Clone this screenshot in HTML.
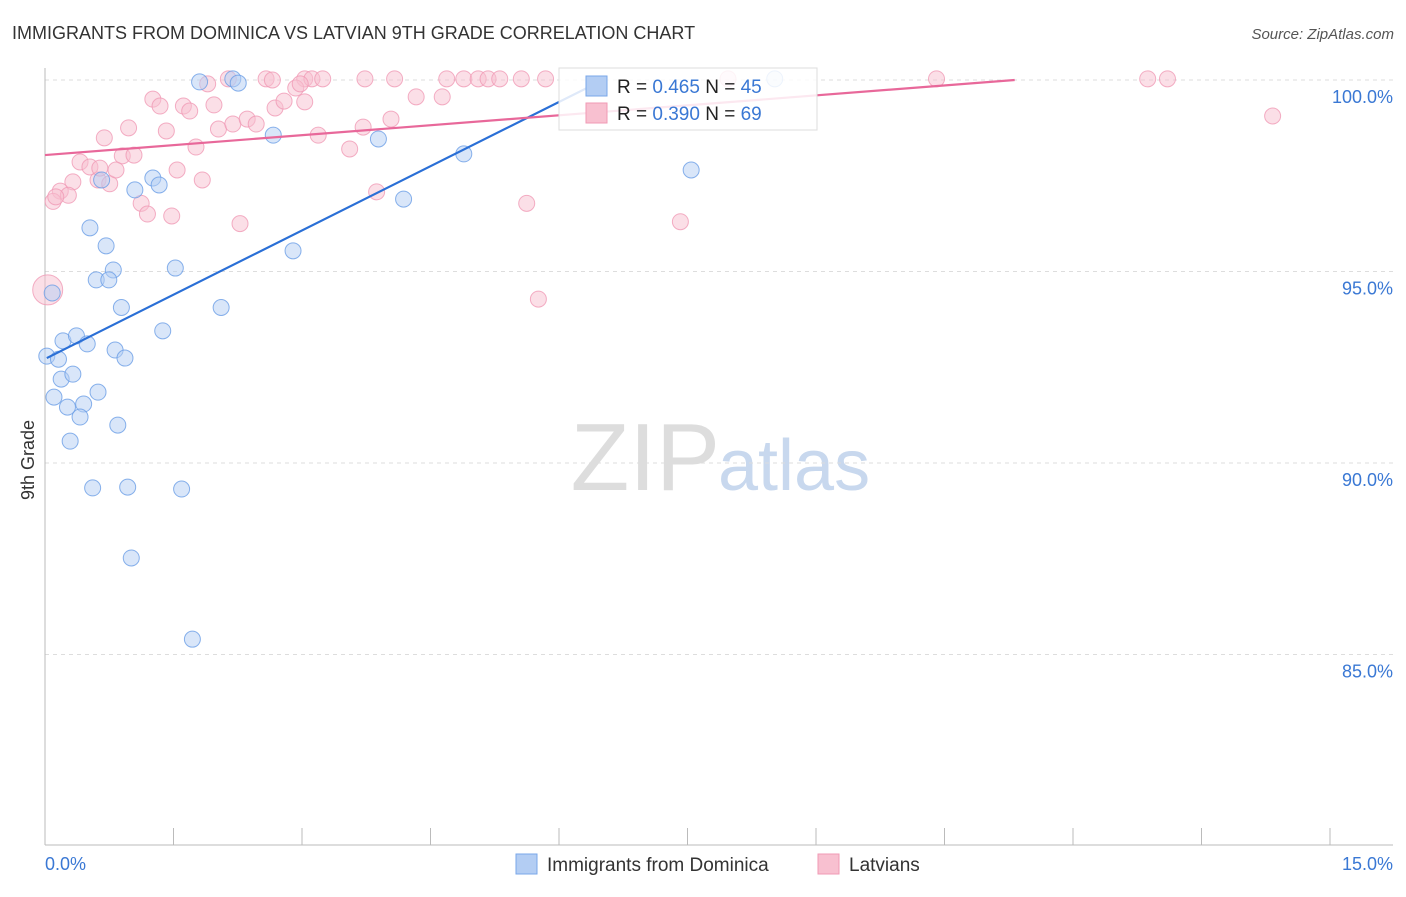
<!DOCTYPE html>
<html><head><meta charset="utf-8"><style>
body{margin:0;background:#fff;font-family:"Liberation Sans",sans-serif}
svg text{font-family:"Liberation Sans",sans-serif}
</style></head><body>
<svg id="c" width="1406" height="892" xmlns="http://www.w3.org/2000/svg">
<text x="12" y="39" font-size="18" fill="#333">IMMIGRANTS FROM DOMINICA VS LATVIAN 9TH GRADE CORRELATION CHART</text>
<text x="1394" y="39" font-size="15" fill="#555" text-anchor="end" font-style="italic">Source: ZipAtlas.com</text>
<text x="720" y="490" font-size="96" fill="#ddd" text-anchor="end" font-family="Liberation Serif">ZIP</text>
<text x="718" y="490" font-size="72" fill="#c8d8ee">atlas</text>
<text x="34" y="460" font-size="18" fill="#333" text-anchor="middle" transform="rotate(-90 34 460)">9th Grade</text>
<g id="grid"></g><g id="pts"></g><g id="lines"></g>
<g>
<rect x="559" y="68" width="258" height="62" fill="#fff" fill-opacity="0.85" stroke="#ddd"/>
<rect x="586" y="76" width="21" height="20" fill="#b3cdf3" stroke="#7aa7e8"/>
<rect x="586" y="103" width="21" height="20" fill="#f8c0d0" stroke="#f09ab5"/>
<text x="617" y="93" font-size="19" fill="#222">R = <tspan fill="#3a78d4">0.465</tspan>   N = <tspan fill="#3a78d4">45</tspan></text>
<text x="617" y="120" font-size="19" fill="#222">R = <tspan fill="#3a78d4">0.390</tspan>   N = <tspan fill="#3a78d4">69</tspan></text>
</g>
<g>
<rect x="516" y="854" width="21" height="20" fill="#b3cdf3" stroke="#7aa7e8"/>
<text x="547" y="871" font-size="19" fill="#333">Immigrants from Dominica</text>
<rect x="818" y="854" width="21" height="20" fill="#f8c0d0" stroke="#f09ab5"/>
<text x="849" y="871" font-size="19" fill="#333">Latvians</text>
</g>
<text x="45" y="870" font-size="18" fill="#3a78d4">0.0%</text>
<text x="1393" y="870" font-size="18" fill="#3a78d4" text-anchor="end">15.0%</text>
</svg>
<script>
const yTicks=[100,95,90,85];
const yTickLabels=["100.0%","95.0%","90.0%","85.0%"];
const blueX=[1.72,2.09,2.15,2.54,3.71,4.66,7.19,3.99,2.76,0.50,0.68,0.76,0.57,0.71,1.45,0.85,1.96,0.08,1.00,1.20,1.27,0.63,0.20,0.35,0.47,0.78,0.89,1.31,0.02,0.15,0.18,0.31,0.59,0.10,0.25,0.43,0.39,0.81,0.28,0.53,0.92,1.52,0.96,1.64,8.12];
const blueY=[99.95,100.03,99.92,98.56,98.46,98.07,97.65,96.89,95.54,96.14,95.67,95.04,94.78,94.78,95.09,94.06,94.06,94.44,97.13,97.44,97.26,97.39,93.19,93.32,93.11,92.95,92.74,93.45,92.79,92.71,92.19,92.32,91.85,91.72,91.46,91.54,91.20,90.99,90.57,89.35,89.37,89.32,87.52,85.40,100.03];
const pinkX=[2.04,1.81,2.46,2.89,2.97,3.09,3.89,4.47,4.66,4.82,4.93,5.06,5.30,5.57,7.60,9.92,12.27,12.49,13.66,1.20,1.54,1.28,1.61,1.88,2.56,2.66,2.79,2.89,4.13,4.42,0.93,0.66,1.35,1.93,2.09,2.25,2.35,3.04,3.54,3.85,1.68,3.39,0.39,0.50,0.86,0.99,0.59,0.72,0.79,1.47,1.75,0.31,0.17,0.26,0.09,1.07,1.14,1.41,2.17,3.69,5.36,7.07,5.49,0.03,0.12,0.61,2.84,2.53,3.56];
const pinkY=[100.03,99.90,100.03,100.03,100.03,100.03,100.03,100.03,100.03,100.03,100.03,100.03,100.03,100.03,100.03,100.03,100.03,100.03,99.06,99.50,99.32,99.32,99.19,99.35,99.27,99.45,99.79,99.43,99.56,99.56,98.75,98.49,98.67,98.72,98.85,98.98,98.85,98.56,98.77,98.98,98.25,98.20,97.86,97.73,98.02,98.04,97.39,97.29,97.65,97.65,97.39,97.34,97.10,96.99,96.83,96.78,96.50,96.45,96.25,97.08,96.78,96.30,94.28,94.52,96.95,97.70,99.90,100.0,100.03];
const blueLine=[0.02,92.74,6.25,100.05];
const pinkLine=[0,98.04,10.79,100.0];
const NS="http://www.w3.org/2000/svg";
const X=v=>45+v*89.87, Y=v=>80+(100-v)*38.3;
const grid=document.getElementById('grid'),pts=document.getElementById('pts'),lines=document.getElementById('lines');
function mk(t,a,p){const e=document.createElementNS(NS,t);for(const k in a)e.setAttribute(k,a[k]);p.appendChild(e);return e;}
yTicks.forEach((t,i)=>{
 const l=mk('line',{x1:45,x2:1393,y1:Y(t),y2:Y(t),stroke:'#ddd','stroke-dasharray':'4,4'},grid);
 
 
 const tx=mk('text',{x:1393,y:Y(t)+23,'font-size':18,fill:'#3a78d4','text-anchor':'end'},grid);
 tx.textContent=yTickLabels[i];
 
 
});
const ax=mk('line',{x1:45,x2:45,y1:68,y2:845,stroke:'#bbb'},grid);


const bx=mk('line',{x1:45,x2:1393,y1:845,y2:845,stroke:'#bbb'},grid);


for(let i=0;i<=10;i++){const t=mk('line',{x1:45+i*128.5,x2:45+i*128.5,y1:828,y2:845,stroke:'#bbb'},grid);
 
 }
pinkX.forEach((x,i)=>{const c=mk('circle',{cx:X(x),cy:Y(pinkY[i]),r:i==63?15:8,fill:'#f8c0d0','fill-opacity':0.5,stroke:'#f09ab5','stroke-opacity':0.8},pts);
 
 });
blueX.forEach((x,i)=>{const c=mk('circle',{cx:X(x),cy:Y(blueY[i]),r:8,fill:'#b3cdf3','fill-opacity':0.5,stroke:'#6a9ee6','stroke-opacity':0.8},pts);
 
 });
const bl=mk('line',{x1:X(blueLine[0]),y1:Y(blueLine[1]),x2:X(blueLine[2]),y2:Y(blueLine[3]),stroke:'#2a6fd6','stroke-width':2.2},lines);


const pl=mk('line',{x1:X(pinkLine[0]),y1:Y(pinkLine[1]),x2:X(pinkLine[2]),y2:Y(pinkLine[3]),stroke:'#e8689a','stroke-width':2.2},lines);


</script>
</body></html>
